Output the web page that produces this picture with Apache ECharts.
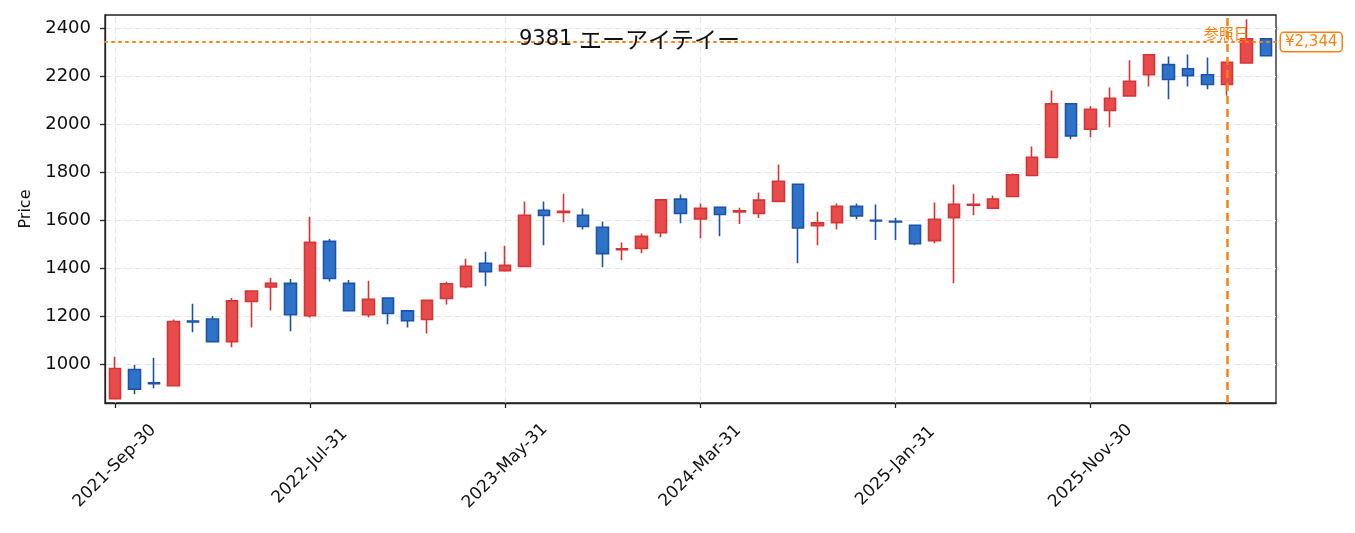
<!DOCTYPE html>
<html>
<head>
<meta charset="utf-8">
<title>9381 エーアイテイー</title>
<script src="https://cdn.jsdelivr.net/npm/echarts@6/dist/echarts.min.js"></script>
<style>
  html, body { margin: 0; padding: 0; background: #fff; }
  #main { width: 1355px; height: 533px; }
</style>
</head>
<body>
<div id="main"></div>
<script>
// 月末の日付（月足）
var categories = [
  '2021-Sep-30', '2021-Oct-31', '2021-Nov-30', '2021-Dec-31', '2022-Jan-31', '2022-Feb-28',
  '2022-Mar-31', '2022-Apr-30', '2022-May-31', '2022-Jun-30', '2022-Jul-31', '2022-Aug-31',
  '2022-Sep-30', '2022-Oct-31', '2022-Nov-30', '2022-Dec-31', '2023-Jan-31', '2023-Feb-28',
  '2023-Mar-31', '2023-Apr-30', '2023-May-31', '2023-Jun-30', '2023-Jul-31', '2023-Aug-31',
  '2023-Sep-30', '2023-Oct-31', '2023-Nov-30', '2023-Dec-31', '2024-Jan-31', '2024-Feb-29',
  '2024-Mar-31', '2024-Apr-30', '2024-May-31', '2024-Jun-30', '2024-Jul-31', '2024-Aug-31',
  '2024-Sep-30', '2024-Oct-31', '2024-Nov-30', '2024-Dec-31', '2025-Jan-31', '2025-Feb-28',
  '2025-Mar-31', '2025-Apr-30', '2025-May-31', '2025-Jun-30', '2025-Jul-31', '2025-Aug-31',
  '2025-Sep-30', '2025-Oct-31', '2025-Nov-30', '2025-Dec-31', '2026-Jan-31', '2026-Feb-28',
  '2026-Mar-31', '2026-Apr-30', '2026-May-31', '2026-Jun-30', '2026-Jul-31', '2026-Aug-31'
];
var opens = [
  857, 979, 923, 911, 1181, 1189, 1095, 1262, 1323, 1338,
  1203, 1513, 1338, 1207, 1277, 1223, 1187, 1275, 1324, 1422,
  1391, 1408, 1643, 1634, 1622, 1572, 1478, 1483, 1549, 1689,
  1607, 1655, 1636, 1629, 1680, 1751, 1578, 1591, 1659, 1601,
  1597, 1580, 1516, 1612, 1664, 1651, 1700, 1788, 1863, 2087,
  1981, 2059, 2119, 2208, 2250, 2233, 2208, 2167, 2257, 2358
];
var closes = [
  983, 897, 919, 1179, 1177, 1095, 1265, 1306, 1338, 1207,
  1509, 1358, 1224, 1271, 1212, 1182, 1267, 1336, 1409, 1387,
  1413, 1622, 1621, 1638, 1575, 1462, 1482, 1534, 1686, 1629,
  1651, 1625, 1640, 1685, 1764, 1569, 1590, 1659, 1619, 1598,
  1594, 1503, 1605, 1668, 1668, 1689, 1791, 1864, 2087, 1953,
  2064, 2110, 2181, 2291, 2188, 2204, 2167, 2260, 2358, 2287
];
var lows = [
  855, 875, 900, 909, 1134, 1093, 1071, 1154, 1225, 1138,
  1196, 1346, 1222, 1196, 1167, 1154, 1129, 1250, 1317, 1326,
  1386, 1406, 1497, 1593, 1563, 1405, 1434, 1463, 1530, 1589,
  1526, 1534, 1585, 1610, 1678, 1422, 1497, 1563, 1605, 1519,
  1519, 1497, 1505, 1338, 1622, 1649, 1698, 1786, 1861, 1939,
  1947, 1989, 2117, 2159, 2106, 2159, 2147, 2120, 2255, 2285
];
var highs = [
  1032, 999, 1028, 1187, 1253, 1202, 1277, 1308, 1361, 1356,
  1616, 1523, 1352, 1349, 1279, 1224, 1269, 1345, 1441, 1470,
  1495, 1679, 1679, 1712, 1650, 1596, 1508, 1546, 1688, 1708,
  1671, 1657, 1653, 1717, 1834, 1752, 1637, 1671, 1671, 1667,
  1611, 1581, 1675, 1750, 1712, 1704, 1796, 1909, 2142, 2089,
  2078, 2155, 2268, 2292, 2284, 2292, 2280, 2262, 2439, 2360
];
var priceTicks = [1000, 1200, 1400, 1600, 1800, 2000, 2200, 2400];
var dateTickIdx = [0, 10, 20, 30, 40, 50];
var refPrice = 2344;
var refDate = '2026-Jun-30';

var FONT = '"DejaVu Sans", "Noto Sans CJK JP", sans-serif';

var ohlc = [];
for (var i = 0; i < categories.length; i++) {
  ohlc.push([opens[i], closes[i], lows[i], highs[i]]);
}

// グリッド線（ローソク足の下に描く）
var gridLines = [];
priceTicks.forEach(function (v) { gridLines.push({ yAxis: v }); });
dateTickIdx.forEach(function (k) { gridLines.push({ xAxis: categories[k] }); });

var myChart = echarts.init(document.getElementById('main'));

var option = {
  backgroundColor: '#fff',
  animation: false,
  textStyle: { fontFamily: FONT },
  title: {
    text: '{c|9381} {k|エーアイテイー}',
    left: 519,
    top: 28,
    padding: 0,
    textStyle: {
      fontFamily: FONT, fontSize: 21, fontWeight: 'normal', color: '#111',
      rich: {
        c: { fontFamily: FONT, fontSize: 21, color: '#111' },
        k: { fontFamily: '"Noto Sans CJK JP", sans-serif', fontSize: 23, color: '#111' }
      }
    },
    z: 20
  },
  grid: {
    left: 105,
    right: 79,
    top: 15,
    bottom: 130,
    show: true,
    borderColor: '#222',
    borderWidth: 1.3,
    backgroundColor: 'transparent'
  },
  xAxis: {
    type: 'category',
    data: categories,
    boundaryGap: true,
    axisLine: { show: true, lineStyle: { color: '#222', width: 1.3 } },
    axisTick: { show: true, alignWithLabel: true, interval: 9, length: 5, lineStyle: { color: '#222', width: 1.3 } },
    axisLabel: {
      interval: 9,
      rotate: 45,
      align: 'center',
      verticalAlign: 'middle',
      margin: 63,
      fontSize: 17,
      color: '#111',
      fontFamily: FONT
    },
    splitLine: { show: false }
  },
  yAxis: {
    type: 'value',
    min: 839,
    max: 2457,
    name: 'Price',
    nameLocation: 'middle',
    nameGap: 71,
    nameTextStyle: { fontSize: 16, color: '#111', fontFamily: FONT },
    axisLine: { show: true, lineStyle: { color: '#222', width: 1.3 } },
    axisTick: { show: true, length: 5, customValues: priceTicks, lineStyle: { color: '#222', width: 1.3 } },
    axisLabel: {
      customValues: priceTicks,
      formatter: function (v) { return String(v); },
      fontSize: 18,
      color: '#111',
      margin: 14,
      fontFamily: FONT
    },
    splitLine: { show: false }
  },
  series: [
    {
      name: 'grid',
      type: 'line',
      data: [],
      z: 0,
      silent: true,
      markLine: {
        silent: true,
        z: 0,
        symbol: 'none',
        label: { show: false },
        lineStyle: { color: '#e6e6e6', type: [6, 4], width: 1.2 },
        data: gridLines
      }
    },
    {
      name: '9381',
      type: 'candlestick',
      data: ohlc,
      barWidth: 12,
      z: 3,
      itemStyle: {
        color: '#e84b4b',
        color0: '#2f73c8',
        borderColor: '#d43535',
        borderColor0: '#1c53a8',
        borderWidth: 1.6
      },
      markLine: {
        silent: true,
        symbol: 'none',
        z: 10,
        data: [
          {
            yAxis: refPrice,
            lineStyle: { color: '#ff7f0e', type: [2, 5], width: 2, cap: 'round' },
            label: {
              show: true,
              position: 'end',
              distance: 5,
              formatter: '¥2,344',
              color: '#ff7f0e',
              fontSize: 15,
              fontFamily: FONT,
              backgroundColor: '#fff',
              borderColor: '#ff7f0e',
              borderWidth: 1.5,
              borderRadius: 3,
              padding: [2, 4, 1, 4]
            }
          },
          {
            xAxis: refDate,
            lineStyle: { color: '#ff7f0e', type: [8, 5], width: 2.5 },
            label: {
              show: true,
              position: 'end',
              formatter: '参照日',
              color: '#ff7f0e',
              fontSize: 15,
              fontFamily: FONT,
              offset: [-1, 33]
            }
          }
        ]
      }
    }
  ]
};

myChart.setOption(option);
</script>
</body>
</html>
